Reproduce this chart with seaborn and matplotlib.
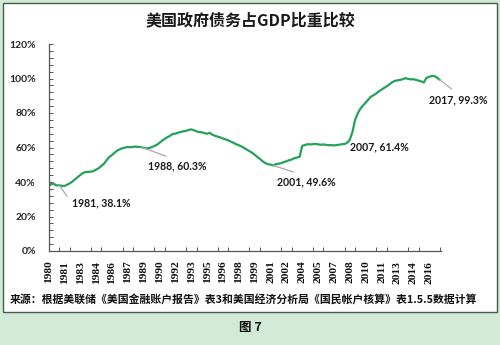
import numpy as np
import pandas as pd
import matplotlib
matplotlib.use("Agg")
import matplotlib.pyplot as plt
import seaborn as sns
from matplotlib.patches import Rectangle
from matplotlib.ticker import MultipleLocator, FixedLocator, FuncFormatter

# US government debt as a share of GDP, quarterly, 1980Q1 - 2017Q1 (%)
debt_ratio = [
    37.6, 38.8, 38.9, 38.0,   # 1980
    38.1, 37.8, 37.7, 38.4,   # 1981
    39.2, 40.2, 41.5, 42.8,   # 1982
    44.0, 45.2, 45.8, 45.9,   # 1983
    46.0, 46.3, 47.2, 48.0,   # 1984
    49.3, 50.6, 52.7, 54.5,   # 1985
    55.6, 57.0, 58.2, 59.0,   # 1986
    59.6, 60.0, 60.3, 60.1,   # 1987
    60.4, 60.5, 60.3, 60.3,   # 1988
    59.8, 59.5, 59.6, 60.2,   # 1989
    60.8, 61.6, 62.7, 64.0,   # 1990
    65.0, 66.0, 66.8, 67.9,   # 1991
    68.0, 68.6, 69.0, 69.4,   # 1992
    69.6, 70.2, 70.5, 70.0,   # 1993
    69.4, 68.9, 68.8, 68.3,   # 1994
    68.0, 68.5, 67.4, 66.8,   # 1995
    66.3, 65.8, 65.2, 64.7,   # 1996
    64.1, 63.4, 62.7, 61.9,   # 1997
    61.3, 60.6, 59.8, 58.8,   # 1998
    57.9, 57.0, 55.8, 54.6,   # 1999
    53.4, 52.0, 51.0, 50.3,   # 2000
    50.1, 49.6, 50.3, 50.6,   # 2001
    50.9, 51.5, 52.0, 52.6,   # 2002
    53.0, 53.8, 54.2, 54.6,   # 2003
    61.0, 61.4, 61.9, 61.8,   # 2004
    61.9, 62.1, 61.8, 61.6,   # 2005
    61.8, 61.5, 61.3, 61.4,   # 2006
    61.2, 61.4, 61.6, 61.9,   # 2007
    62.0, 62.8, 64.5, 69.0,   # 2008
    76.0, 79.8, 82.5, 84.4,   # 2009
    86.0, 87.8, 89.5, 90.3,   # 2010
    91.3, 92.6, 93.5, 94.6,   # 2011
    95.5, 96.6, 97.8, 98.6,   # 2012
    98.9, 99.2, 99.6, 100.2,  # 2013
    99.8, 99.5, 99.6, 99.2,   # 2014
    98.8, 98.3, 97.7, 100.4,  # 2015
    100.9, 101.5, 101.4, 100.5,  # 2016
    99.3,                     # 2017
]

# category labels shown every six quarters
tick_labels = ["1980", "1981", "1983", "1984", "1986", "1987", "1989", "1990",
               "1992", "1993", "1995", "1996", "1998", "1999", "2001", "2002",
               "2004", "2005", "2007", "2008", "2010", "2011", "2013", "2014",
               "2016"]
label_step = 6
tick_step = 4

# callouts: text, quarter index
callout_texts = ["1981, 38.1%", "1988, 60.3%", "2001, 49.6%", "2007, 61.4%", "2017, 99.3%"]
callout_index = [4, 35, 85, 109, 148]

title = "美国政府债务占GDP比重比较"
source = "来源：根据美联储《美国金融账户报告》表3和美国经济分析局《国民帐户核算》表1.5.5数据计算"
fig_label = "图 7"

sns.set_theme(style="white")
plt.rcParams["font.family"] = ["Noto Sans CJK SC", "DejaVu Sans"]

df = pd.DataFrame({"q": np.arange(len(debt_ratio)), "ratio": debt_ratio})

W, H = 500, 345
fig = plt.figure(figsize=(W / 100, H / 100), dpi=100, facecolor="#d2ead6")
fig.patches.append(Rectangle((3 / W, (H - 312) / H), 494 / W, 309 / H,
                             transform=fig.transFigure, facecolor="white",
                             edgecolor="#4a5a4e", linewidth=1.0, zorder=-5))

ax = fig.add_axes([48.5 / W, (H - 251) / H, 392.5 / W, 207 / H])
ax.set_zorder(2)
ax.set_facecolor("none")
sns.lineplot(data=df, x="q", y="ratio", ax=ax, color="#24a259", linewidth=1.6)

ax.set_xlim(0, 148.5)
ax.set_ylim(0, 120)
ax.set_xlabel("")
ax.set_ylabel("")

for side in ("top", "right"):
    ax.spines[side].set_visible(False)
for side in ("left", "bottom"):
    ax.spines[side].set_color("#555555")
    ax.spines[side].set_linewidth(0.9)

ax.yaxis.set_major_locator(MultipleLocator(20))
ax.yaxis.set_minor_locator(MultipleLocator(4))
ax.yaxis.set_major_formatter(FuncFormatter(lambda v, p: f"{v:.0f}%"))
ax.tick_params(axis="y", which="both", direction="in", length=3, width=0.7,
               color="#555555", left=True, pad=9)
for t in ax.get_yticklabels():
    t.set_fontfamily("Lato")
    t.set_fontweight("bold")
    t.set_fontsize(7.5)

ax.xaxis.set_major_locator(FixedLocator([i * label_step for i in range(len(tick_labels))]))
ax.set_xticklabels(tick_labels, rotation=90, fontfamily="Liberation Serif",
                   fontweight="bold", fontsize=8.2, color="#111111")
ax.xaxis.set_minor_locator(MultipleLocator(tick_step))
ax.tick_params(axis="x", which="major", length=0, pad=7)
ax.tick_params(axis="x", which="minor", direction="in", length=3, width=0.7,
               color="#555555", bottom=True)

# data callouts (text position in data units, leader anchor on the text box)
text_pos = [(8.9, 27.8), (48.8, 49.3), (97.4, 40.2), (125.0, 60.1), (154.9, 87.9)]
leader = [True, True, True, False, True]
anchor = [(0.0, 0.5), (0.5, 1.0), (0.5, 1.0), (0.5, 1.0), (0.5, 1.0)]
for txt, idx, pos, has_leader, rel in zip(callout_texts, callout_index, text_pos, leader, anchor):
    arrow = dict(arrowstyle="-", color="#a8a8a8", lw=0.9, shrinkA=2, shrinkB=0,
                 relpos=rel) if has_leader else None
    ax.annotate(txt, xy=(idx, debt_ratio[idx]), xytext=pos, textcoords="data",
                ha="left" if rel[0] == 0.0 else "center", va="center",
                fontfamily="Lato", fontweight="bold", fontsize=7.6, color="#1a1a1a",
                arrowprops=arrow, annotation_clip=False)

fig.text(0.5, 1 - 20 / H, title, ha="center", va="center", fontsize=11.5,
         fontweight="bold", color="#1a1a1a")
fig.text(10 / W, 1 - 300 / H, source, ha="left", va="center", fontsize=7.8,
         fontweight="bold", color="#111111")
fig.text(0.5, 1 - 328 / H, fig_label, ha="center", va="center", fontsize=9,
         fontweight="bold", color="#111111")

fig.savefig("out.png", dpi=100, facecolor=fig.get_facecolor())
